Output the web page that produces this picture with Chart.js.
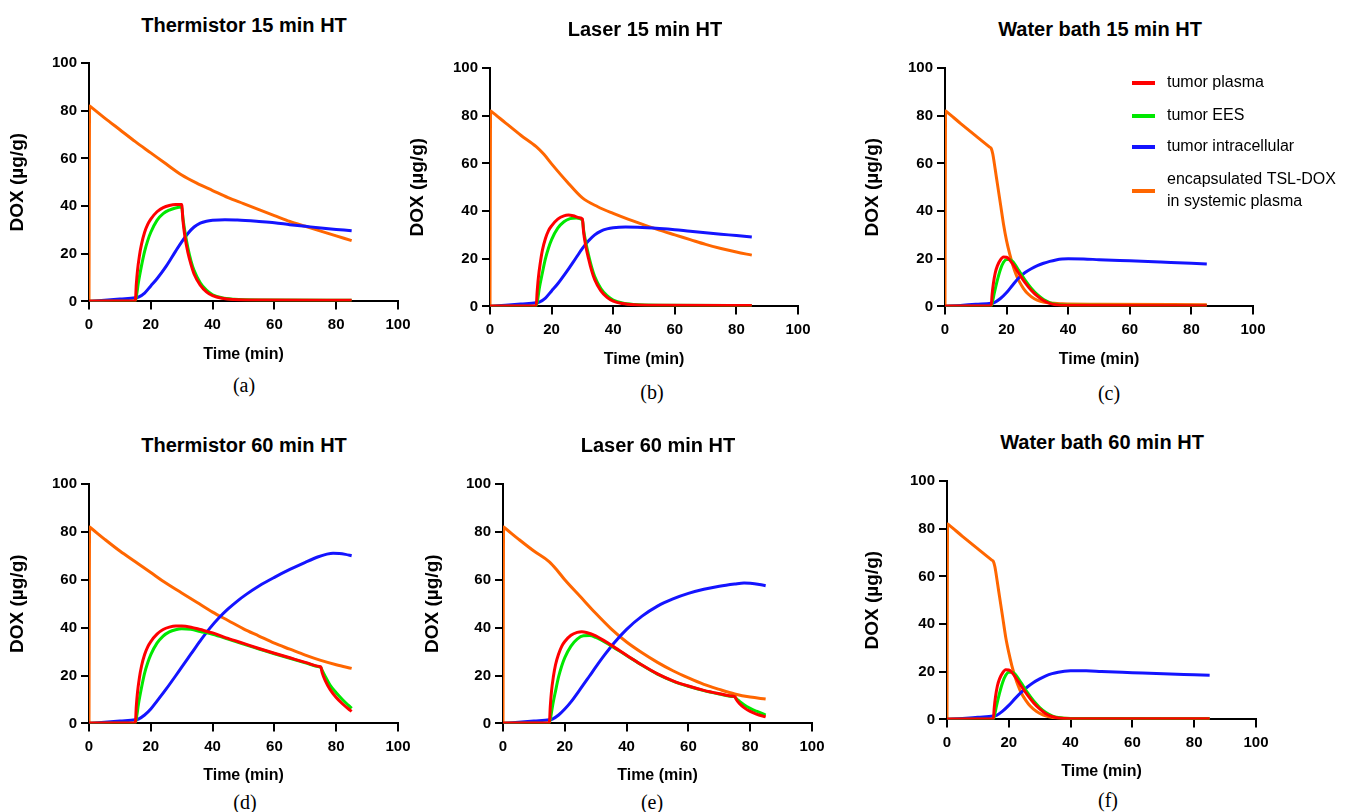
<!DOCTYPE html>
<html>
<head>
<meta charset="utf-8">
<script src="https://cdn.jsdelivr.net/npm/chart.js@4.4.0/dist/chart.umd.min.js"></script>
<style>
  html, body { margin:0; padding:0; background:#fff; }
  body { width:1345px; height:812px; position:relative; overflow:hidden; }
  canvas { position:absolute; }
  .ttl { position:absolute; transform:translate(-50%,-50%); font:bold 20px "Liberation Sans", Arial, sans-serif; color:#000; white-space:nowrap; }
  .cap { position:absolute; transform:translate(-50%,-50%); font:20px "Liberation Serif", "Times New Roman", serif; color:#000; white-space:nowrap; }
</style>
</head>
<body>
<script>
// ---------------- DATA ----------------
const xTicks = [0, 20, 40, 60, 80, 100];
const yTicks = [0, 20, 40, 60, 80, 100];
const seriesLabels = [['tumor plasma'], ['tumor EES'], ['tumor intracellular'], ['encapsulated TSL-DOX', 'in systemic plasma']];
const seriesColors = ['#ff0000', '#00e800', '#1414ff', '#ff6600'];
const panelTitles = ['Thermistor 15 min HT', 'Laser 15 min HT', 'Water bath 15 min HT', 'Thermistor 60 min HT', 'Laser 60 min HT', 'Water bath 60 min HT'];
const panelCaptions = ['(a)', '(b)', '(c)', '(d)', '(e)', '(f)'];

// (a) Thermistor 15 min HT  — [time (min), DOX (µg/g)]
const thermistor15_plasma = [[0,0.2],[15,0.3],[15.3,7],[15.7,13],[16.3,19],[17,24],[18,29],[19,32.3],[20,34.5],[22,37.6],[24,39.3],[26,40.2],[28,40.6],[30,40.6],[30.4,34],[31,27.5],[32,20.5],[33,15.5],[34,11.5],[36,6.8],[38,4],[40,2.4],[43,1.3],[47,0.8],[55,0.6],[85,0.5]];
const thermistor15_ees = [[0,0.1],[15,0.2],[15.5,3.5],[16,8],[17,15],[18,21],[19,25.5],[20,29],[22,34],[24,36.8],[26,38.3],[28,39.2],[30,39.6],[30.4,35],[31,29.5],[32,22.5],[33,17],[34,13],[36,7.8],[38,4.7],[40,2.8],[43,1.5],[47,0.9],[55,0.6],[85,0.5]];
const thermistor15_intra = [[0,0],[5,0.5],[10,1],[15,1.5],[16,1.8],[18,3.5],[20,6.5],[22,9.5],[25,14.8],[28,21],[30,25],[32,28.5],[34,31.2],[36,32.8],[38,33.6],[40,34],[44,34.3],[48,34.1],[55,33.5],[60,33],[65,32.2],[70,31.5],[75,30.8],[80,30.2],[85,29.6]];
const thermistor15_tsl = [[0,0],[0.2,82],[0.6,81.6],[5,77],[10,72],[15,67],[20,62.3],[25,57.6],[30,53],[35,49.5],[40,46.5],[45,43.5],[50,41],[55,38.5],[60,36],[65,33.5],[70,31.5],[75,29.5],[80,27.5],[85,25.5]];

// (b) Laser 15 min HT
const laser15_plasma = [[0,0.2],[15,0.3],[15.3,6],[15.7,12],[16.3,18],[17,23.5],[18,28.5],[19,31.8],[20,33.8],[22,36.6],[24,38],[25.5,38.3],[27,38],[29,37.2],[30,36.7],[30.4,31],[31,26],[32,20],[33,15],[34,11.2],[36,6.5],[38,3.8],[40,2.2],[43,1.2],[47,0.7],[55,0.5],[85,0.4]];
const laser15_ees = [[0,0.1],[15,0.2],[15.5,3],[16,7.5],[17,14],[18,20],[19,24.5],[20,28],[22,32.8],[24,35.5],[26,36.8],[28,37.1],[30,36.3],[30.4,32],[31,27.5],[32,21.5],[33,16.5],[34,12.5],[36,7.5],[38,4.5],[40,2.7],[43,1.4],[47,0.8],[55,0.5],[85,0.4]];
const laser15_intra = [[0,0],[5,0.5],[10,1],[15,1.5],[16,1.8],[18,3.5],[20,6.5],[22,9.5],[25,14.8],[28,20.5],[30,24.3],[32,27.5],[34,30],[36,31.6],[38,32.5],[40,33],[44,33.3],[48,33.2],[55,32.7],[60,32.2],[65,31.5],[70,30.9],[75,30.3],[80,29.7],[85,29.1]];
const laser15_tsl = [[0,0],[0.2,82],[0.6,81.6],[5,77],[10,71.8],[15,67],[17.5,63.8],[20,59.8],[25,52.3],[30,45.5],[35,41.8],[40,39],[45,36.5],[50,34.2],[55,32],[60,30],[65,28],[70,26],[75,24.3],[80,22.8],[85,21.5]];

// (c) Water bath 15 min HT
const water15_plasma = [[0,0.2],[15,0.3],[15.3,5],[15.7,9.5],[16.3,14],[17,17],[18,19.5],[19,20.7],[20,20.6],[21,19.5],[22,17.8],[24,13.8],[26,10],[28,6.8],[30,4.3],[32,2.5],[34,1.3],[36,0.7],[40,0.4],[85,0.3]];
const water15_ees = [[0,0.1],[15,0.2],[15.5,2.5],[16,5.5],[17,11],[18,15.5],[19,18.5],[20,19.7],[21,19.7],[22,18.8],[24,15],[26,11],[28,7.6],[30,4.9],[32,2.9],[34,1.6],[36,0.9],[40,0.5],[85,0.3]];
const water15_intra = [[0,0],[5,0.4],[10,0.9],[15,1.3],[16,1.6],[18,3.3],[20,5.8],[22,9],[24,12],[26,14.2],[28,15.8],[30,17.1],[32,18.1],[34,18.9],[36,19.5],[38,19.9],[40,20],[45,19.9],[50,19.6],[60,19.1],[70,18.6],[80,18.1],[85,17.8]];
const water15_tsl = [[0,0],[0.2,82],[0.6,81.6],[5,76.8],[10,71.5],[14.5,66.8],[15,66.3],[15.5,64],[16.3,57.5],[17,51.5],[18,43],[19,34.5],[20,27.5],[21,22],[22,17.3],[23,13.6],[24,10.7],[25.5,7.5],[27,5.2],[29,3.2],[31,2.1],[34,1.4],[38,1.1],[50,0.9],[85,0.7]];

// (d) Thermistor 60 min HT
const thermistor60_plasma = [[0,0.2],[15,0.3],[15.3,7],[15.7,13],[16.3,19],[17,24],[18,28.8],[19,32],[20,34.2],[22,37.3],[24,39.2],[26,40.2],[28,40.7],[30,40.7],[33,40.2],[36,39.2],[40,37.8],[45,35.5],[50,33.4],[55,31.3],[60,29.3],[65,27.4],[70,25.5],[74.5,23.8],[75,23.6],[75.5,21],[76.5,17.8],[78,14.2],[80,10.8],[82,8.2],[84,6],[85,5]];
const thermistor60_ees = [[0,0.1],[15,0.2],[15.5,3.5],[16,8],[17,15],[18,21],[19,25.3],[20,28.7],[22,33.5],[24,36.5],[26,38.2],[28,39.1],[30,39.5],[33,39.3],[36,38.4],[40,37.2],[45,35.2],[50,33.1],[55,31.1],[60,29.1],[65,27.2],[70,25.3],[74.5,23.6],[75,23.4],[75.5,22],[76.5,19.5],[78,16],[80,12.8],[82,10],[84,7.5],[85,6.3]];
const thermistor60_intra = [[0,0],[5,0.5],[10,1],[15,1.5],[16,1.8],[18,3.5],[20,6],[22,9.3],[25,14.4],[28,19.8],[30,23.5],[33,29],[36,34.5],[39,39.6],[42,44],[45,47.8],[48,51.1],[51,54],[55,57.4],[60,61],[65,64.3],[70,67.3],[74,69.5],[77,70.7],[79,71.1],[81,71],[83,70.6],[85,70]];
const thermistor60_tsl = [[0,0],[0.2,82],[0.6,81.6],[5,77],[10,72],[15,67.5],[20,63],[25,58.5],[30,54.5],[35,50.5],[40,46.5],[45,43],[50,39.5],[55,36.5],[60,33.5],[65,31],[70,28.5],[75,26.3],[80,24.5],[85,23]];

// (e) Laser 60 min HT
const laser60_plasma = [[0,0.2],[15,0.3],[15.3,7],[15.7,13.5],[16.3,19.5],[17,24.5],[18,29],[19,32.2],[20,34.2],[22,36.8],[24,38],[25.5,38.3],[27,38],[30,36.6],[35,32.7],[40,28.5],[45,24.4],[50,20.7],[55,17.8],[60,15.6],[65,13.8],[70,12.4],[74.5,11.3],[75,11.2],[75.5,10],[76.5,8.3],[78,6.6],[80,5],[82,3.9],[85,2.7]];
const laser60_ees = [[0,0.1],[15,0.2],[15.5,3],[16,7],[17,13.5],[18,19.5],[19,24],[20,27.5],[22,32.3],[24,35.2],[26,36.6],[28,36.7],[30,35.9],[35,32.4],[40,28.4],[45,24.3],[50,20.6],[55,17.7],[60,15.5],[65,13.7],[70,12.3],[74.5,11.2],[75,11.1],[75.5,10.4],[76.5,9.3],[78,7.8],[80,6.3],[82,5.1],[85,3.5]];
const laser60_intra = [[0,0],[5,0.5],[10,1],[15,1.5],[16,1.8],[18,3.5],[20,6],[22,9],[25,14.3],[28,19.8],[30,23.5],[33,28.8],[36,33.7],[40,39.3],[45,44.8],[50,49],[55,52],[60,54.3],[65,56],[70,57.3],[75,58.2],[78,58.6],[80,58.5],[83,58],[85,57.5]];
const laser60_tsl = [[0,0],[0.2,82],[0.6,81.6],[5,77],[10,72],[15,67.5],[17.5,64],[20,60],[25,53],[30,46],[35,39.5],[40,34],[45,29.5],[50,25.5],[55,22],[60,19],[65,16.3],[70,14.2],[75,12.3],[80,11],[85,10.2]];

// (f) Water bath 60 min HT
const water60_plasma = [[0,0.2],[15,0.3],[15.3,5],[15.7,9.5],[16.3,14],[17,17],[18,19.5],[19,20.8],[20,20.7],[21,19.7],[22,18],[24,14],[26,10.3],[28,7],[30,4.4],[32,2.4],[34,1.2],[36,0.6],[40,0.3],[85,0.3]];
const water60_ees = [[0,0.1],[15,0.2],[15.5,2.5],[16,5.5],[17,11],[18,15.5],[19,18.5],[20,19.8],[21,19.8],[22,19],[24,15.3],[26,11.3],[28,7.8],[30,5],[32,2.9],[34,1.5],[36,0.8],[40,0.4],[85,0.3]];
const water60_intra = [[0,0],[5,0.4],[10,0.9],[15,1.4],[16,1.7],[18,3.5],[20,5.9],[22,8.7],[24,11.3],[26,13.6],[28,15.5],[30,17],[32,18.3],[34,19.2],[36,19.8],[38,20.2],[40,20.4],[45,20.4],[50,20.1],[60,19.6],[70,19.1],[80,18.7],[85,18.5]];
const water60_tsl = [[0,0],[0.2,82],[0.6,81.6],[5,76.8],[10,71.5],[14.5,66.8],[15,66.3],[15.5,64],[16.3,57.5],[17,51.5],[18,43],[19,34.5],[20,28],[21,22.5],[22,18],[23,14.2],[24,11.2],[25.5,8],[27,5.5],[29,3.3],[31,1.9],[33,1.1],[36,0.6],[40,0.4],[85,0.3]];

const panelSeries = [
  [thermistor15_plasma, thermistor15_ees, thermistor15_intra, thermistor15_tsl],
  [laser15_plasma, laser15_ees, laser15_intra, laser15_tsl],
  [water15_plasma, water15_ees, water15_intra, water15_tsl],
  [thermistor60_plasma, thermistor60_ees, thermistor60_intra, thermistor60_tsl],
  [laser60_plasma, laser60_ees, laser60_intra, laser60_tsl],
  [water60_plasma, water60_ees, water60_intra, water60_tsl]
];

// ---------------- LAYOUT (page pixels) ----------------
const layouts = [
  { box:[89,63,398,299],   yTitleX:18,  xTitleY:352, title:[244,25],   cap:[244,385] },
  { box:[490,68,798,304],  yTitleX:418, xTitleY:357, title:[645,29],   cap:[652,392] },
  { box:[945,68,1253,304], yTitleX:873, xTitleY:357, title:[1100,29],  cap:[1109,393], legend:true },
  { box:[89,484,398,721],  yTitleX:18,  xTitleY:773, title:[244,445],  cap:[245,802] },
  { box:[503,484,812,721], yTitleX:433, xTitleY:773, title:[658,445],  cap:[652,802] },
  { box:[947,481,1256,717],yTitleX:873, xTitleY:769, title:[1102,442], cap:[1108,800] }
];

const SANS = '"Liberation Sans", Arial, Helvetica, sans-serif';
const YAXIS_W = 89, PAD_TOP = 20;

const legendPlugin = {
  id: 'innerLegend',
  afterDraw(chart, args, opts) {
    if (!opts || !opts.show) return;
    const ctx = chart.ctx, ca = chart.chartArea;
    ctx.save();
    ctx.font = '16px ' + SANS;
    ctx.textBaseline = 'middle';
    ctx.textAlign = 'left';
    const rows = [15, 48, 79, 123];
    chart.data.datasets.forEach((ds, i) => {
      const y = ca.top + rows[i];
      ctx.strokeStyle = ds.borderColor;
      ctx.lineWidth = 4;
      ctx.beginPath();
      ctx.moveTo(ca.left + 187, y);
      ctx.lineTo(ca.left + 210, y);
      ctx.stroke();
      ctx.fillStyle = '#000';
      const lines = ds.legendLines;
      const lh = 22;
      lines.forEach((t, k) => {
        ctx.fillText(t, ca.left + 222, y + (k - (lines.length - 1) / 2) * lh);
      });
    });
    ctx.restore();
  }
};

layouts.forEach((L, p) => {
  const [x0, y0, x1, y1] = L.box;
  const cl = x0 - YAXIS_W;
  const ct = y0 - PAD_TOP;
  const padR = L.legend ? (1345 - x1) : 25;
  const xFont = { family: SANS, size: 16, weight: 'bold', lineHeight: 1.2 };
  const yFont = { family: SANS, size: 19, weight: 'bold', lineHeight: 1.2 };
  const Hx = L.xTitleY - y1 + xFont.size * 1.2 / 2;
  const w = Math.round(x1 - cl + padR);
  const h = Math.round(y1 - ct + Hx + 2);
  const yTitlePad = L.yTitleX - cl - yFont.size * 1.2 / 2;

  const cv = document.createElement('canvas');
  cv.width = w; cv.height = h;
  cv.style.left = cl + 'px'; cv.style.top = ct + 'px';
  cv.style.width = w + 'px'; cv.style.height = h + 'px';
  document.body.appendChild(cv);

  const t = document.createElement('div');
  t.className = 'ttl'; t.textContent = panelTitles[p];
  t.style.left = L.title[0] + 'px'; t.style.top = L.title[1] + 'px';
  document.body.appendChild(t);
  const c = document.createElement('div');
  c.className = 'cap'; c.textContent = panelCaptions[p];
  c.style.left = L.cap[0] + 'px'; c.style.top = L.cap[1] + 'px';
  document.body.appendChild(c);

  const datasets = panelSeries[p].map((s, i) => ({
    label: seriesLabels[i].join(' '),
    legendLines: seriesLabels[i],
    data: s.map(([x, y]) => ({ x, y })),
    borderColor: seriesColors[i],
    backgroundColor: seriesColors[i],
    borderWidth: 3,
    pointRadius: 0,
    fill: false,
    cubicInterpolationMode: 'monotone',
    borderJoinStyle: 'round',
    borderCapStyle: 'butt'
  }));

  const tickFont = { family: SANS, size: 15, weight: 'bold' };
  new Chart(cv, {
    type: 'line',
    data: { datasets },
    plugins: [legendPlugin],
    options: {
      responsive: false,
      animation: false,
      devicePixelRatio: 1,
      layout: { padding: { left: 0, top: PAD_TOP, right: padR, bottom: 0 } },
      plugins: {
        legend: { display: false },
        tooltip: { enabled: false },
        title: { display: false },
        innerLegend: { show: !!L.legend }
      },
      scales: {
        x: {
          type: 'linear', min: xTicks[0], max: xTicks[xTicks.length - 1],
          afterBuildTicks: (s) => { s.ticks = xTicks.map(v => ({ value: v })); },
          ticks: { color: '#000', font: tickFont, padding: 6, maxRotation: 0, autoSkip: false },
          grid: { drawOnChartArea: false, drawTicks: true, tickLength: 8, color: '#000', lineWidth: 2 },
          border: { display: true, color: '#000', width: 2 },
          title: { display: true, text: 'Time (min)', color: '#000', font: xFont, padding: { top: 0, bottom: 0 } },
          afterFit: (s) => { s.height = Hx; }
        },
        y: {
          type: 'linear', min: yTicks[0], max: yTicks[yTicks.length - 1],
          afterBuildTicks: (s) => { s.ticks = yTicks.map(v => ({ value: v })); },
          ticks: { color: '#000', font: tickFont, padding: 4, autoSkip: false },
          grid: { drawOnChartArea: false, drawTicks: true, tickLength: 8, color: '#000', lineWidth: 2 },
          border: { display: true, color: '#000', width: 2 },
          title: { display: true, text: 'DOX (µg/g)', color: '#000', font: yFont, padding: { top: yTitlePad, bottom: 0 } },
          afterFit: (s) => { s.width = YAXIS_W; }
        }
      }
    }
  });
});
</script>
</body>
</html>
